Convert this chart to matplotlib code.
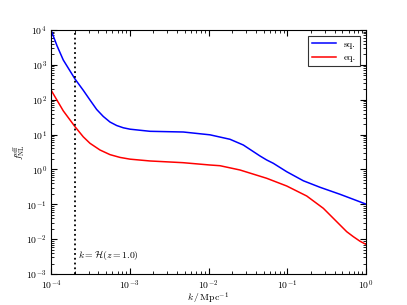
import numpy as np
import matplotlib
matplotlib.use("Agg")
import matplotlib.pyplot as plt

plt.rcParams['font.family'] = 'serif'
plt.rcParams['font.serif'] = ['cmr10']
plt.rcParams['mathtext.fontset'] = 'cm'
plt.rcParams['axes.formatter.use_mathtext'] = True
plt.rcParams['axes.unicode_minus'] = False

# values (log10 k, log10 f_NL)
logk_sq = [-4.0, -3.924, -3.844, -3.695, -3.590, -3.505, -3.420, -3.336, -3.251,
           -3.166, -3.082, -2.997, -2.743, -2.320, -1.981, -1.727, -1.558, -1.346,
           -1.261, -1.177, -1.007, -0.796, -0.584, -0.330, -0.161, 0.0]
logf_sq = [4.0, 3.55, 3.139, 2.594, 2.27, 1.992, 1.72, 1.52, 1.36,
           1.26, 1.195, 1.155, 1.094, 1.074, 0.993, 0.865, 0.701, 0.386,
           0.271, 0.176, -0.065, -0.325, -0.512, -0.713, -0.857, -0.995]

logk_eq = [-4.0, -3.844, -3.695, -3.590, -3.505, -3.378, -3.251, -3.124, -2.997,
           -2.743, -2.324, -1.981, -1.854, -1.600, -1.261, -1.007, -0.753, -0.542,
           -0.330, -0.245, -0.161, -0.076, 0.0]
logf_eq = [2.279, 1.68, 1.226, 0.935, 0.750, 0.558, 0.425, 0.345, 0.295,
           0.243, 0.194, 0.127, 0.107, -0.016, -0.254, -0.475, -0.762, -1.115,
           -1.594, -1.786, -1.929, -2.06, -2.15]

k_horizon = 2.0e-4

fig = plt.figure(figsize=(4.07, 3.05), dpi=100)
ax = fig.add_axes([0.1253, 0.1016, 0.7740, 0.8000])

ax.plot(10**np.array(logk_sq), 10**np.array(logf_sq), color='blue', lw=1.1, label='sq.')
ax.plot(10**np.array(logk_eq), 10**np.array(logf_eq), color='red', lw=1.1, label='eq.')
ax.axvline(k_horizon, color='black', ls=':', lw=1.3)
ax.text(2.2e-4, 10**-2.45, r'$k=\mathcal{H}(z=1.0)$', fontsize=7, va='center')

ax.set_xscale('log')
ax.set_yscale('log')
ax.set_xlim(1e-4, 1)
ax.set_ylim(1e-3, 1e4)
ax.set_xlabel(r'$k\,/\,\mathrm{Mpc}^{-1}$', fontsize=7, labelpad=-1)
ax.set_ylabel(r'$f_{\rm NL}^{\rm eff}$', fontsize=7, labelpad=-1)

ax.tick_params(which='both', direction='in', top=True, right=True, labelsize=7)
ax.tick_params(which='major', length=4, pad=3)
ax.tick_params(which='minor', length=2)
ax.yaxis.set_minor_locator(matplotlib.ticker.LogLocator(subs=np.arange(2, 10), numticks=20))
ax.yaxis.set_major_locator(matplotlib.ticker.LogLocator(numticks=20))

leg = ax.legend(loc='upper right', fontsize=7, fancybox=False, edgecolor='black',
                handlelength=2.5, borderaxespad=0.6)
leg.get_frame().set_linewidth(0.8)

fig.savefig('out.png', dpi=100)
